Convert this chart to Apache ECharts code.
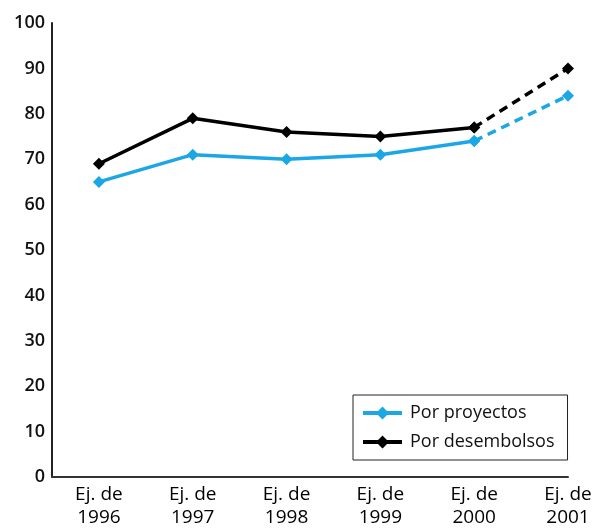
<!DOCTYPE html>
<html>
<head>
<meta charset="utf-8">
<script src="https://cdn.jsdelivr.net/npm/echarts@6/dist/echarts.min.js"></script>
<style>html,body{margin:0;padding:0;background:#fff}#c{width:596px;height:530px}</style>
</head>
<body>
<div id="c"></div>
<script>
// Fiscal-year categories (x labels)
const categories = ['Ej. de\n1996', 'Ej. de\n1997', 'Ej. de\n1998', 'Ej. de\n1999', 'Ej. de\n2000', 'Ej. de\n2001'];
// Series values
const porProyectos = [65, 71, 70, 71, 74, 84];
const porDesembolsos = [69, 79, 76, 75, 77, 90];
// The last year is a projection, drawn dashed
const projectedFrom = 4;

const BLUE = '#1ba7e6';
const BLACK = '#000000';
const FONT = 'Open Sans';

// Category i sits at position 2i+1 on a half-step value axis
const pos = i => 2 * i + 1;
const solidPart = vals => vals.map((v, i) => i <= projectedFrom ? [pos(i), v] : [pos(i), null]);
const dashedPart = vals => vals.map((v, i) => i >= projectedFrom ? [pos(i), v] : [pos(i), null]);

function lineSeries(name, vals, color, dashed) {
  return {
    name: name,
    type: 'line',
    data: dashed ? dashedPart(vals) : solidPart(vals),
    symbol: 'diamond',
    symbolSize: 12,
    showSymbol: true,
    connectNulls: false,
    lineStyle: { color: color, width: 3.5, type: dashed ? [9, 6] : 'solid' },
    itemStyle: { color: color },
    emphasis: { disabled: true },
    animation: false,
    z: name === 'Por desembolsos' ? 3 : 2
  };
}

// Legend marker: thick line with a diamond in the middle
const legendIcon = 'path://M0,4.5 L15,4.5 L19.5,0 L24,4.5 L39,4.5 L39,8.5 L24,8.5 L19.5,13 L15,8.5 L0,8.5 Z';

const chart = echarts.init(document.getElementById('c'), null, { renderer: 'canvas' });
chart.setOption({
  backgroundColor: '#fff',
  animation: false,
  grid: { left: 52, right: 28, top: 23, bottom: 53 },
  xAxis: {
    type: 'value',
    min: 0,
    max: 11,
    interval: 1,
    axisLine: { show: true, lineStyle: { color: '#333', width: 2 } },
    axisTick: { show: false },
    splitLine: { show: false },
    axisLabel: {
      showMinLabel: true,
      showMaxLabel: true,
      formatter: v => (v % 2 === 1 ? categories[(v - 1) / 2] : ''),
      color: '#000',
      fontFamily: FONT,
      fontWeight: 500,
      fontSize: 19,
      lineHeight: 23,
      margin: 6
    }
  },
  yAxis: {
    type: 'value',
    min: 0,
    max: 100,
    interval: 10,
    axisLine: { show: true, lineStyle: { color: '#222', width: 2 } },
    axisTick: { show: false },
    splitLine: { show: false },
    axisLabel: { color: '#111', fontFamily: FONT, fontWeight: 600, fontSize: 18, margin: 7 }
  },
  legend: {
    data: [
      { name: 'Por proyectos', icon: legendIcon },
      { name: 'Por desembolsos', icon: legendIcon },
    ],
    orient: 'vertical',
    left: 353,
    top: 395,
    itemWidth: 39,
    itemHeight: 13,
    itemGap: 11,
    padding: [9, 13, 9, 10],
    borderColor: '#222',
    borderWidth: 1,
    textStyle: { color: '#111', fontFamily: FONT, fontSize: 18, lineHeight: 18, padding: [0, 0, 0, 3] },
    selectedMode: false
  },
  series: [
    lineSeries('Por proyectos', porProyectos, BLUE, false),
    lineSeries('Por proyectos', porProyectos, BLUE, true),
    lineSeries('Por desembolsos', porDesembolsos, BLACK, false),
    lineSeries('Por desembolsos', porDesembolsos, BLACK, true)
  ]
});
</script>
</body>
</html>
